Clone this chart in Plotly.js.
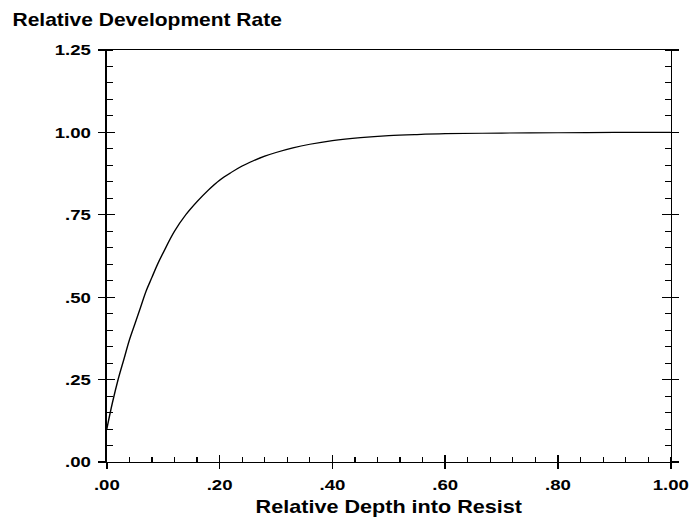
<!DOCTYPE html>
<html>
<head>
<meta charset="utf-8">
<script src="https://cdn.plot.ly/plotly-3.0.1.min.js"></script>
<style>
  html, body { margin: 0; padding: 0; background: #fff; overflow: hidden; }
  /* The chart is laid out narrower and widened, giving the broad lettering */
  #chart { width: 578px; height: 527px; transform: scaleX(1.2); transform-origin: 0 0; }
</style>
</head>
<body>
<div id="chart"></div>
<script>
// Relative depth into the resist (fraction of thickness)
const depth = [0, 0.01, 0.02, 0.03, 0.04, 0.05, 0.06, 0.07, 0.08, 0.09, 0.10,
  0.12, 0.14, 0.16, 0.18, 0.20, 0.22, 0.24, 0.26, 0.28, 0.30, 0.33, 0.36,
  0.40, 0.45, 0.50, 0.55, 0.60, 0.70, 0.80, 0.90, 1.00];
// Development rate relative to the bulk rate
const rate = [0.10, 0.18, 0.25, 0.31, 0.37, 0.42, 0.47, 0.52, 0.56, 0.60, 0.635,
  0.70, 0.75, 0.79, 0.825, 0.855, 0.878, 0.898, 0.914, 0.928, 0.939, 0.953, 0.964,
  0.975, 0.984, 0.990, 0.9935, 0.996, 0.998, 0.999, 1.00, 1.00];

const xTickVals = [0, 0.2, 0.4, 0.6, 0.8, 1.0];
const xTickText = ['.00', '.20', '.40', '.60', '.80', '1.00'];
const yTickVals = [0, 0.25, 0.5, 0.75, 1.0, 1.25];
const yTickText = ['.00', '.25', '.50', '.75', '1.00', '1.25'];

const FAMILY = 'Liberation Sans, Arial, sans-serif';
const tickFont = { family: FAMILY, size: 15.5, color: '#000', weight: 'bold' };

const trace = {
  x: depth, y: rate, type: 'scatter', mode: 'lines',
  line: { color: '#000', width: 1.2, shape: 'spline', smoothing: 1 },
  hoverinfo: 'skip', showlegend: false
};

// Invisible trace on the overlay axes that carry the inner halves of the major ticks
const helper = {
  x: [0, 1], y: [0, 1.25], xaxis: 'x2', yaxis: 'y2', type: 'scatter', mode: 'markers',
  marker: { opacity: 0 }, hoverinfo: 'skip', showlegend: false
};

const layout = {
  width: 578, height: 527,
  margin: { l: 89.4, r: 18.8, t: 50, b: 64.7 },
  paper_bgcolor: '#fff', plot_bgcolor: '#fff',
  font: { family: FAMILY, size: 15, color: '#000' },
  title: {
    text: '<b>Relative Development Rate</b>',
    font: { family: FAMILY, size: 17.5, color: '#000' },
    xref: 'container', yref: 'container', x: 10.4 / 578, xanchor: 'left',
    y: 1 - 20 / 527, yanchor: 'middle'
  },
  xaxis: {
    range: [0, 1], showgrid: false, zeroline: false,
    showline: true, linecolor: '#000', linewidth: 1.2, mirror: true,
    tickmode: 'array', tickvals: xTickVals, ticktext: xTickText,
    ticks: 'outside', ticklen: 6, tickwidth: 1.2, tickcolor: '#000',
    ticklabelstandoff: 2,
    minor: { ticks: 'inside', dtick: 0.04, tick0: 0, ticklen: 5, tickwidth: 1, tickcolor: '#000', showgrid: false },
    tickfont: tickFont,
    title: { text: '<b>Relative Depth into Resist</b>', font: { family: FAMILY, size: 18, color: '#000' }, standoff: 8 }
  },
  yaxis: {
    range: [0, 1.25], showgrid: false, zeroline: false,
    showline: true, linecolor: '#000', linewidth: 1.2, mirror: 'ticks',
    tickmode: 'array', tickvals: yTickVals, ticktext: yTickText,
    ticks: 'outside', ticklen: 6, tickwidth: 1.2, tickcolor: '#000',
    ticklabelstandoff: 3,
    minor: { ticks: 'inside', dtick: 0.05, tick0: 0, ticklen: 5, tickwidth: 1, tickcolor: '#000', showgrid: false },
    tickfont: tickFont
  },
  xaxis2: {
    overlaying: 'x', matches: 'x', range: [0, 1], showgrid: false, zeroline: false,
    showline: false, showticklabels: false,
    tickmode: 'array', tickvals: xTickVals,
    ticks: 'inside', ticklen: 7, tickwidth: 1.2, tickcolor: '#000'
  },
  yaxis2: {
    overlaying: 'y', matches: 'y', range: [0, 1.25], showgrid: false, zeroline: false,
    showline: false, showticklabels: false, mirror: 'ticks',
    tickmode: 'array', tickvals: yTickVals,
    ticks: 'inside', ticklen: 7, tickwidth: 1.2, tickcolor: '#000'
  }
};

Plotly.newPlot('chart', [helper, trace], layout, { displayModeBar: false, staticPlot: true });
</script>
</body>
</html>
